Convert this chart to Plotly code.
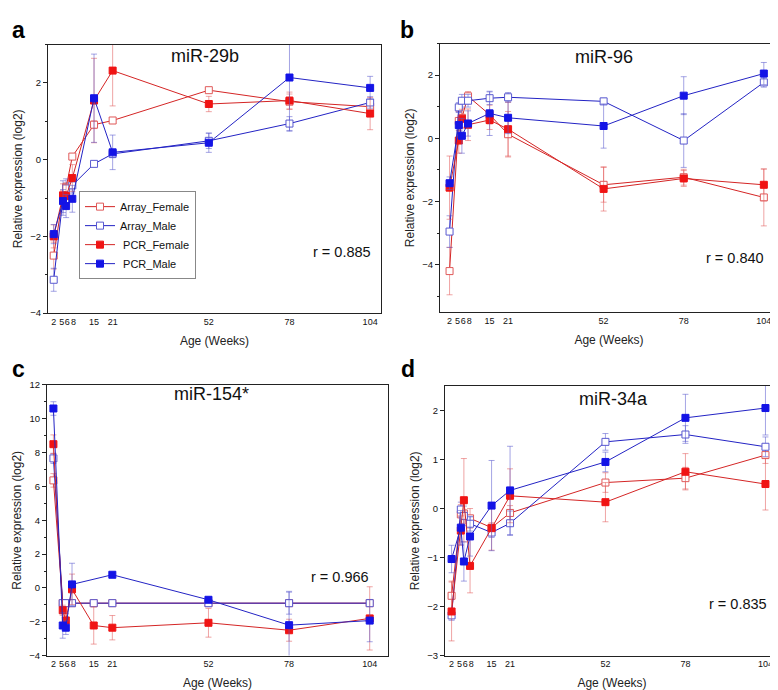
import plotly.graph_objects as go

AGE = [2, 5, 6, 8, 15, 21, 52, 78, 104]
TICK_VALS = [2, 5, 6, 8, 15, 21, 52, 78, 104]
TICK_TEXT = ["2", "5\u00a0", "\u00a06", "\u00a08", "15", "21", "52", "78", "104"]
SERIES = ["Array_Female", "Array_Male", "\u00a0PCR_Female", "\u00a0PCR_Male"]
PANEL_TITLES = ["miR-29b", "miR-96", "miR-154*", "miR-34a"]
R_TEXT = ["r = 0.885", "r = 0.840", "r = 0.966", "r = 0.835"]
LETTERS = ["a", "b", "c", "d"]

# Panel a: miR-29b
a_array_f = [-2.5, -0.95, -0.72, 0.08, 0.91, 1.02, 1.81, 1.51, 1.38]
a_array_f_err = [0.35, 0.15, 0.12, 0.08, 0.1, 0.08, 0.06, 0.2, 0.1]
a_array_m = [-3.13, -1.0, -0.75, -0.67, -0.11, 0.15, 0.49, 0.94, 1.49]
a_array_m_err = [0.3, 0.45, 0.25, 0.2, 0.05, 0.1, 0.2, 0.18, 0.15]
a_pcr_f = [-2.0, -0.93, -0.95, -0.48, 1.54, 2.32, 1.45, 1.54, 1.2]
a_pcr_f_err = [0.3, 0.3, 0.3, 0.35, 1.1, 0.92, 0.2, 0.22, 0.42]
a_pcr_m = [-1.94, -1.08, -1.21, -1.02, 1.6, 0.19, 0.44, 2.14, 1.87]
a_pcr_m_err = [0.25, 0.3, 0.3, 0.35, 1.15, 0.45, 0.25, 1.4, 0.3]

# Panel b: miR-96
b_array_f = [-4.2, 0.55, 0.65, 1.33, 0.75, 0.13, -1.47, -1.23, -1.87]
b_array_f_err = [0.75, 0.3, 0.3, 0.15, 0.3, 0.72, 0.55, 0.25, 0.9]
b_array_m = [-2.95, 0.98, 1.19, 1.19, 1.27, 1.3, 1.17, -0.07, 1.77]
b_array_m_err = [0.5, 0.15, 0.2, 0.2, 0.2, 0.15, 0.1, 0.85, 0.15]
b_pcr_f = [-1.56, -0.07, 0.62, 0.43, 0.58, 0.29, -1.6, -1.27, -1.47]
b_pcr_f_err = [1.0, 0.4, 0.3, 0.5, 0.3, 0.85, 0.7, 0.25, 0.5]
b_pcr_m = [-1.42, 0.42, 0.08, 0.47, 0.79, 0.65, 0.39, 1.35, 2.05]
b_pcr_m_err = [0.2, 0.4, 0.55, 0.4, 0.7, 0.5, 0.7, 0.6, 0.35]

# Panel c: miR-154*
c_array_f = [6.36, -0.9, -0.9, -0.9, -0.9, -0.9, -0.9, -0.9, -0.9]
c_array_f_err = [0.4, 0.1, 0.1, 0.1, 0.1, 0.1, 0.1, 0.1, 0.1]
c_array_m = [7.66, -0.9, -0.9, -0.9, -0.9, -0.9, -0.9, -0.9, -0.9]
c_array_m_err = [0.3, 0.1, 0.1, 0.1, 0.1, 0.1, 0.1, 0.65, 0.15]
c_pcr_f = [8.5, -1.32, -1.92, -0.08, -2.22, -2.35, -2.06, -2.5, -1.8]
c_pcr_f_err = [0.55, 0.3, 0.4, 0.9, 1.1, 0.72, 0.85, 0.65, 1.87]
c_pcr_m = [10.61, -2.22, -2.35, 0.21, None, 0.78, -0.7, -2.2, -1.93]
c_pcr_m_err = [0.4, 0.75, 0.4, 1.25, 0.0, 0.1, 0.1, 2.0, 1.25]

# Panel d: miR-34a
d_array_f = [-1.78, -0.12, -0.1, -0.2, -0.39, -0.09, 0.53, 0.62, 1.09]
d_array_f_err = [0.3, 0.2, 0.2, 0.2, 0.1, 0.15, 0.2, 0.22, 0.17]
d_array_m = [-2.18, -0.02, -0.15, -0.31, -0.49, -0.3, 1.36, 1.51, 1.26]
d_array_m_err = [0.1, 0.15, 0.2, 0.15, 0.1, 0.25, 0.17, 0.18, 0.2]
d_pcr_f = [-2.1, -0.45, 0.17, -1.17, -0.4, 0.26, 0.13, 0.75, 0.5]
d_pcr_f_err = [0.6, 0.3, 0.85, 0.55, 0.45, 0.55, 0.4, 0.37, 0.53]
d_pcr_m = [-1.03, -0.39, -1.08, -0.57, 0.06, 0.37, 0.95, 1.85, 2.05]
d_pcr_m_err = [0.28, 0.35, 0.4, 0.4, 0.92, 0.9, 0.2, 0.48, 0.55]

PANELS = [
    [(a_array_f, a_array_f_err), (a_array_m, a_array_m_err), (a_pcr_f, a_pcr_f_err), (a_pcr_m, a_pcr_m_err)],
    [(b_array_f, b_array_f_err), (b_array_m, b_array_m_err), (b_pcr_f, b_pcr_f_err), (b_pcr_m, b_pcr_m_err)],
    [(c_array_f, c_array_f_err), (c_array_m, c_array_m_err), (c_pcr_f, c_pcr_f_err), (c_pcr_m, c_pcr_m_err)],
    [(d_array_f, d_array_f_err), (d_array_m, d_array_m_err), (d_pcr_f, d_pcr_f_err), (d_pcr_m, d_pcr_m_err)],
]

W, H = 778, 690
# plot boxes in pixels: left, right, top, bottom
BOXES = [(40, 373, 31, 304), (432, 770, 30, 303), (39, 380, 377, 652), (437, 771, 378, 652)]
XRANGES = [[0.16, 107.5], [-1.1, 108.6], [-0.07, 109.9], [-0.14, 108.4]]
YRANGES = [[-4, 3], [-5.5, 3], [-4, 12], [-3, 2.5]]
YDTICK = [2, 2, 2, 1]
TITLE_POS = [(0.47, 0.956), (0.484, 0.951), (0.481, 0.966), (0.504, 0.951)]
R_POS = [(0.882, 0.228), (0.874, 0.2), (0.859, 0.289), (0.878, 0.191)]
LETTER_POS = [(2, 1), (390, 1), (2, 346), (391, 346)]

RED_LINE = "#d42525"
BLUE_LINE = "#2323c4"
STYLES = [
    dict(line=RED_LINE, fill="white", edge="#e05a5a", err="rgba(225,90,90,0.55)"),
    dict(line=BLUE_LINE, fill="white", edge="#5a5ad0", err="rgba(90,90,205,0.55)"),
    dict(line=RED_LINE, fill="#f01414", edge="#f01414", err="rgba(225,90,90,0.55)"),
    dict(line=BLUE_LINE, fill="#1414e6", edge="#1414e6", err="rgba(90,90,205,0.55)"),
]

FONT = "Liberation Sans, Arial, sans-serif"
fig = go.Figure()

for p, panel in enumerate(PANELS):
    ax = "" if p == 0 else str(p + 1)
    for s, (vals, errs) in enumerate(panel):
        st = STYLES[s]
        fig.add_trace(go.Scatter(
            x=AGE, y=vals, mode="lines+markers", name=SERIES[s],
            legendgroup=SERIES[s], showlegend=(p == 0), connectgaps=True,
            xaxis="x" + ax, yaxis="y" + ax,
            line=dict(color=st["line"], width=1),
            marker=dict(symbol="square", size=7, color=st["fill"],
                        line=dict(color=st["edge"], width=1)),
            error_y=dict(type="data", array=errs, visible=True,
                         color=st["err"], thickness=1, width=3),
        ))

layout = dict(
    width=W, height=H, margin=dict(l=0, r=0, t=0, b=0),
    paper_bgcolor="white", plot_bgcolor="white",
    font=dict(family=FONT, color="#111"),
    showlegend=True,
    legend=dict(x=71 / W, y=1 - 180 / H, xanchor="left", yanchor="top",
                bordercolor="#888", borderwidth=1, bgcolor="white",
                font=dict(size=11, color="#111"), itemwidth=30,
                tracegroupgap=0),
)
annotations = []
for p in range(4):
    l, r, t, b = BOXES[p]
    ax = "" if p == 0 else str(p + 1)
    layout["xaxis" + ax] = dict(
        domain=[l / W, r / W], anchor="y" + ax, range=XRANGES[p],
        tickmode="array", tickvals=TICK_VALS, ticktext=TICK_TEXT, tickangle=0,
        ticks="", showline=True, linecolor="#222", linewidth=1, mirror=True,
        showgrid=False, zeroline=False, tickfont=dict(size=9, color="#111"),
        title=dict(text="Age (Weeks)", font=dict(size=12, color="#222"), standoff=10),
    )
    yax = dict(
        domain=[1 - b / H, 1 - t / H], anchor="x" + ax, range=YRANGES[p],
        tick0=0, dtick=YDTICK[p], ticks="outside", ticklen=4, tickcolor="#222",
        showline=True, linecolor="#222", linewidth=1, mirror=True,
        showgrid=False, zeroline=False, tickfont=dict(size=9.5, color="#111"),
        title=dict(text="Relative expression (log2)", font=dict(size=12, color="#222"), standoff=5),
    )
    if YDTICK[p] == 2:
        yax["minor"] = dict(tick0=0, dtick=1, ticks="outside", ticklen=2.5, tickcolor="#222")
    layout["yaxis" + ax] = yax
    annotations.append(dict(text=PANEL_TITLES[p], xref="x" + ax + " domain", yref="y" + ax + " domain",
                            x=TITLE_POS[p][0], y=TITLE_POS[p][1], xanchor="center", yanchor="middle",
                            showarrow=False, font=dict(size=18, color="#111")))
    annotations.append(dict(text=R_TEXT[p], xref="x" + ax + " domain", yref="y" + ax + " domain",
                            x=R_POS[p][0], y=R_POS[p][1], xanchor="center", yanchor="middle",
                            showarrow=False, font=dict(size=14.5, color="#111")))
    annotations.append(dict(text="<b>" + LETTERS[p] + "</b>", xref="paper", yref="paper",
                            x=LETTER_POS[p][0] / W, y=1 - LETTER_POS[p][1] / H,
                            xanchor="left", yanchor="top", showarrow=False,
                            font=dict(size=23, color="#000")))
layout["annotations"] = annotations
fig.update_layout(**layout)
fig.write_html("out.html")
